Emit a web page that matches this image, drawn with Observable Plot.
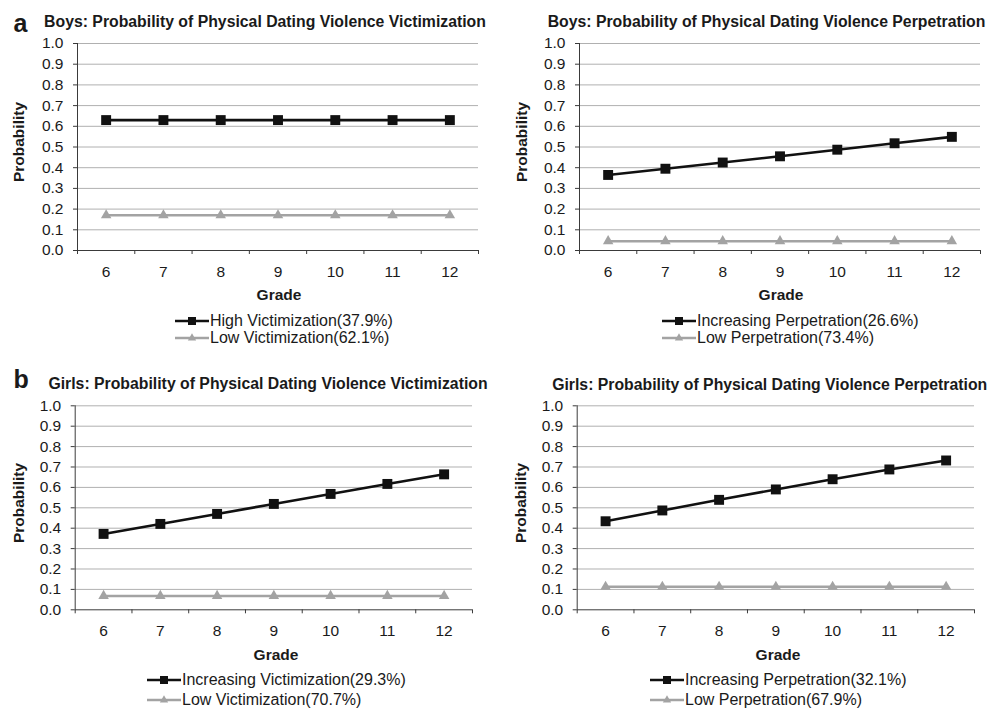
<!DOCTYPE html>
<html><head><meta charset="utf-8">
<script src="https://cdn.jsdelivr.net/npm/d3@7"></script>
<script src="https://cdn.jsdelivr.net/npm/@observablehq/plot@0.6"></script>
<style>
body{margin:0;background:#fff;font-family:"Liberation Sans",Arial,sans-serif;color:#1a1a1a;}
#root{position:relative;width:1000px;height:708px;overflow:hidden;background:#fff;}
.abs{position:absolute;white-space:nowrap;line-height:1;}
.svgwrap{position:absolute;}
.svgwrap svg{overflow:visible;}
</style></head><body><div id="root"></div>
<script>
// ---------- data ----------
const grades = [6, 7, 8, 9, 10, 11, 12];
const yTicks = [0, 0.1, 0.2, 0.3, 0.4, 0.5, 0.6, 0.7, 0.8, 0.9, 1.0];

const boysVictHigh = [0.63, 0.63, 0.63, 0.63, 0.63, 0.63, 0.63];
const boysVictLow  = [0.17, 0.17, 0.17, 0.17, 0.17, 0.17, 0.17];
const boysPerpInc  = [0.365, 0.395, 0.425, 0.455, 0.487, 0.518, 0.549];
const boysPerpLow  = [0.045, 0.045, 0.045, 0.045, 0.045, 0.045, 0.045];
const girlsVictInc = [0.372, 0.421, 0.470, 0.519, 0.568, 0.617, 0.664];
const girlsVictLow = [0.068, 0.068, 0.068, 0.068, 0.068, 0.068, 0.068];
const girlsPerpInc = [0.434, 0.487, 0.539, 0.590, 0.640, 0.688, 0.732];
const girlsPerpLow = [0.113, 0.113, 0.113, 0.113, 0.113, 0.113, 0.113];

const titles = [
  "Boys: Probability of Physical Dating Violence Victimization",
  "Boys: Probability of Physical Dating Violence Perpetration",
  "Girls: Probability of Physical Dating Violence Victimization",
  "Girls: Probability of Physical Dating Violence Perpetration"
];
const seriesNames = [
  ["High Victimization(37.9%)", "Low Victimization(62.1%)"],
  ["Increasing Perpetration(26.6%)", "Low Perpetration(73.4%)"],
  ["Increasing Victimization(29.3%)", "Low Victimization(70.7%)"],
  ["Increasing Perpetration(32.1%)", "Low Perpetration(67.9%)"]
];
const seriesValues = [
  [boysVictHigh, boysVictLow],
  [boysPerpInc, boysPerpLow],
  [girlsVictInc, girlsVictLow],
  [girlsPerpInc, girlsPerpLow]
];
const panelLetters = ["a", null, "b", null];
const xLabel = "Grade";
const yLabel = "Probability";

// ---------- layout ----------
const DARK = "#111111", GRAY = "#a3a3a3", GRID = "#b0b0b0", AXIS = "#3a3a3a";
const layout = [
  {svgLeft:0,   svgTop:0,   h:285, ml:77, mr:22, mt:43, mb:35, titleX:265, titleBase:27.3, letterBase:31.7,
   yLabX:19, yLabY:142, gradeX:279, gradeY:295, legX:175, legRows:[320.5,337.5]},
  {svgLeft:500, svgTop:0,   h:285, ml:79, mr:20, mt:43, mb:35, titleX:766.5, titleBase:27.3,
   yLabX:521.5, yLabY:142, gradeX:781, gradeY:295, legX:662, legRows:[320.5,337.5]},
  {svgLeft:0,   svgTop:380, h:264.3, ml:74.7, mr:28, mt:25.3, mb:35, titleX:268, titleBase:389.3, letterBase:388.3,
   yLabX:19, yLabY:502.5, gradeX:276, gradeY:655, legX:147, legRows:[679.5,699.5]},
  {svgLeft:500, svgTop:380, h:264.3, ml:76.7, mr:26, mt:25.3, mb:35, titleX:769.7, titleBase:390,
   yLabX:521, yLabY:502.5, gradeX:778, gradeY:655, legX:650, legRows:[679.5,699.5]}
];

const root = document.getElementById("root");
const FONT = '"Liberation Sans", Arial, sans-serif';

function textAtBaseline(str, x, base, fs, weight, anchor) {
  const d = document.createElement("div");
  d.className = "abs";
  d.textContent = str;
  d.style.fontSize = fs + "px";
  d.style.fontWeight = weight;
  d.style.top = (base - 0.8465 * fs) + "px";
  d.style.left = x + "px";
  if (anchor === "middle") d.style.transform = "translateX(-50%)";
  root.appendChild(d);
  return d;
}
function textCentered(str, cx, cy, fs, weight, rotate) {
  const d = document.createElement("div");
  d.className = "abs";
  d.textContent = str;
  d.style.fontSize = fs + "px";
  d.style.fontWeight = weight;
  d.style.left = cx + "px";
  d.style.top = cy + "px";
  d.style.transform = "translate(-50%,-50%)" + (rotate ? " rotate(-90deg)" : "");
  root.appendChild(d);
  return d;
}

const boundaries = grades.map(g => g - 0.5).concat([grades[grades.length - 1] + 0.5]);

layout.forEach((L, k) => {
  const [v1, v2] = seriesValues[k];
  const s1 = grades.map((g, i) => ({grade: g, p: v1[i]}));
  const s2 = grades.map((g, i) => ({grade: g, p: v2[i]}));
  const chart = Plot.plot({
    width: 500, height: L.h,
    marginLeft: L.ml, marginRight: L.mr, marginTop: L.mt, marginBottom: L.mb,
    style: {fontFamily: FONT, fontSize: "15.5px", color: "#1a1a1a", background: "transparent", overflow: "visible"},
    x: {type: "linear", domain: [boundaries[0], boundaries[boundaries.length - 1]]},
    y: {domain: [0, 1]},
    marks: [
      Plot.ruleY(yTicks.filter(d => d > 0), {stroke: GRID, strokeWidth: 1}),
      Plot.axisY({ticks: yTicks, tickSize: 4, tickPadding: 10, tickFormat: d3.format(".1f"), label: null, stroke: AXIS}),
      Plot.axisX({ticks: grades, tickSize: 0, tickPadding: 15, tickFormat: d => String(d), label: null}),
      Plot.axisX({ticks: boundaries, tickSize: 4, tickFormat: () => "", label: null, stroke: AXIS}),
      Plot.ruleY([0], {stroke: AXIS, strokeWidth: 1}),
      Plot.ruleX([boundaries[0]], {stroke: AXIS, strokeWidth: 1}),
      Plot.line(s2, {x: "grade", y: "p", stroke: GRAY, strokeWidth: 2.6}),
      Plot.dot(s2, {x: "grade", y: "p", symbol: "triangle", r: 3.9, fill: GRAY, stroke: "none"}),
      Plot.line(s1, {x: "grade", y: "p", stroke: DARK, strokeWidth: 2.6}),
      Plot.dot(s1, {x: "grade", y: "p", symbol: "square", r: 5.6, fill: DARK, stroke: "none"})
    ]
  });
  const wrap = document.createElement("div");
  wrap.className = "svgwrap";
  wrap.style.left = L.svgLeft + "px";
  wrap.style.top = L.svgTop + "px";
  wrap.appendChild(chart);
  root.appendChild(wrap);

  // titles and labels
  textAtBaseline(titles[k], L.titleX, L.titleBase, 15.8, "bold", "middle");
  if (panelLetters[k]) textAtBaseline(panelLetters[k], 13.5, L.letterBase, 25, "bold", "start");
  textCentered(yLabel, L.yLabX, L.yLabY, 15.5, "bold", true);
  textCentered(xLabel, L.gradeX, L.gradeY, 15.5, "bold", false);

  // legend
  const styles = [
    {color: DARK, sym: d3.symbolSquare, size: 64},
    {color: GRAY, sym: d3.symbolTriangle, size: 30}
  ];
  seriesNames[k].forEach((name, j) => {
    const row = document.createElement("div");
    row.className = "abs";
    row.style.left = L.legX + "px";
    row.style.top = (L.legRows[j] - 8) + "px";
    row.style.height = "16px";
    row.style.display = "flex";
    row.style.alignItems = "center";
    const sw = d3.create("svg").attr("width", 34).attr("height", 16).style("display", "block");
    sw.append("line").attr("x1", 0).attr("x2", 34).attr("y1", 8).attr("y2", 8)
      .attr("stroke", styles[j].color).attr("stroke-width", 2.6);
    sw.append("path").attr("d", d3.symbol(styles[j].sym, styles[j].size)())
      .attr("transform", "translate(17,8)").attr("fill", styles[j].color);
    row.appendChild(sw.node());
    const t = document.createElement("span");
    t.textContent = name;
    t.style.fontSize = "16px";
    t.style.lineHeight = "1";
    t.style.marginLeft = "1px";
    row.appendChild(t);
    root.appendChild(row);
  });
});
</script>
</body></html>
